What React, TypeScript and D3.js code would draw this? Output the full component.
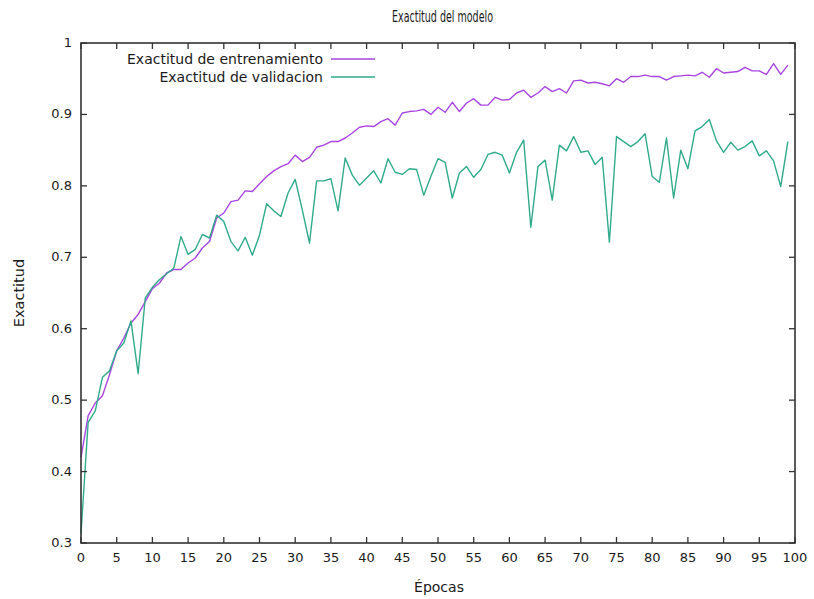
import React, { useEffect, useRef } from 'react';
import * as d3 from 'd3';

// exactitud por epoca
const entrenamiento = [
  0.42, 0.478, 0.496, 0.506, 0.536, 0.569, 0.587, 0.608, 0.62, 0.638,
  0.656, 0.664, 0.678, 0.683, 0.683, 0.692, 0.699, 0.713, 0.722, 0.755,
  0.762, 0.778, 0.78, 0.793, 0.792, 0.803, 0.813, 0.821, 0.827, 0.831,
  0.843, 0.834, 0.84, 0.854, 0.857, 0.862, 0.862, 0.867, 0.874, 0.882,
  0.884, 0.883, 0.89, 0.894, 0.885, 0.902, 0.904, 0.905, 0.907, 0.9,
  0.91, 0.903, 0.917, 0.904, 0.916, 0.922, 0.913, 0.913, 0.924, 0.92,
  0.921, 0.93, 0.934, 0.924, 0.93, 0.939, 0.932, 0.936, 0.93, 0.947,
  0.948, 0.944, 0.945, 0.943, 0.94, 0.95, 0.945, 0.953, 0.953, 0.955,
  0.953, 0.953, 0.948, 0.953, 0.954, 0.955, 0.954, 0.959, 0.952, 0.964,
  0.958, 0.959, 0.96, 0.966, 0.961, 0.961, 0.956, 0.971, 0.956, 0.969,
];

const validacion = [
  0.313, 0.469, 0.485, 0.532, 0.541, 0.569, 0.58, 0.611, 0.537, 0.643,
  0.658, 0.669, 0.677, 0.685, 0.729, 0.704, 0.711, 0.732, 0.727, 0.759,
  0.75, 0.722, 0.709, 0.728, 0.703, 0.731, 0.775, 0.765, 0.757, 0.79,
  0.809, 0.766, 0.72, 0.807, 0.807, 0.81, 0.765, 0.839, 0.815, 0.801,
  0.811, 0.821, 0.804, 0.838, 0.819, 0.816, 0.824, 0.823, 0.787, 0.813,
  0.838, 0.833, 0.783, 0.818, 0.827, 0.812, 0.823, 0.844, 0.847, 0.843,
  0.818, 0.847, 0.864, 0.742, 0.827, 0.836, 0.78, 0.857, 0.849, 0.869,
  0.847, 0.849, 0.83, 0.84, 0.721, 0.869, 0.862, 0.855, 0.862, 0.873,
  0.813, 0.805, 0.867, 0.783, 0.85, 0.824, 0.877, 0.883, 0.893, 0.863,
  0.847, 0.861, 0.85, 0.855, 0.863, 0.842, 0.849, 0.835, 0.799, 0.862,
];

const series = [
  { nombre: 'Exactitud de entrenamiento', valores: entrenamiento, color: '#a845e2' },
  { nombre: 'Exactitud de validacion', valores: validacion, color: '#2fab8a' },
];

const xTicks = d3.range(0, 101, 5);
const yTicks = [0.3, 0.4, 0.5, 0.6, 0.7, 0.8, 0.9, 1];

function App() {
  const ref = useRef<SVGSVGElement>(null);

  useEffect(() => {
    const svg = d3.select(ref.current);
    svg.selectAll('*').remove();

    const width = 814;
    const height = 599;
    const margin = { top: 43, left: 81, bottom: 56, right: 19 };
    const iwidth = width - margin.left - margin.right;
    const iheight = height - margin.top - margin.bottom;
    const font = 'Tahoma, "DejaVu Sans", sans-serif';

    const x = d3.scaleLinear().domain([0, 100]).range([0, iwidth]);
    const y = d3.scaleLinear().domain([0.3, 1]).range([iheight, 0]);

    const g = svg.append('g').attr('transform', `translate(${margin.left},${margin.top})`);

    // lineas
    const linea = d3.line<number>()
      .x((d, i) => x(i))
      .y(d => y(d));

    series.forEach(s => {
      g.append('path')
        .datum(s.valores)
        .attr('fill', 'none')
        .attr('stroke', s.color)
        .attr('stroke-width', 1.4)
        .attr('stroke-linejoin', 'round')
        .attr('d', linea);
    });

    // ejes estilo gnuplot: ticks hacia adentro en los cuatro lados
    const tick = 6;
    const ejes = g.append('g').attr('stroke', '#333').attr('stroke-width', 1.3);
    xTicks.forEach(t => {
      ejes.append('line').attr('x1', x(t)).attr('x2', x(t)).attr('y1', iheight).attr('y2', iheight - tick);
      ejes.append('line').attr('x1', x(t)).attr('x2', x(t)).attr('y1', 0).attr('y2', tick);
    });
    yTicks.forEach(t => {
      ejes.append('line').attr('x1', 0).attr('x2', tick).attr('y1', y(t)).attr('y2', y(t));
      ejes.append('line').attr('x1', iwidth).attr('x2', iwidth - tick).attr('y1', y(t)).attr('y2', y(t));
    });
    g.append('rect')
      .attr('width', iwidth)
      .attr('height', iheight)
      .attr('fill', 'none')
      .attr('stroke', '#333')
      .attr('stroke-width', 1.6);

    const texto = svg.append('g')
      .attr('font-family', font)
      .attr('font-size', 13)
      .attr('fill', '#1a1a1a');

    xTicks.forEach(t => {
      texto.append('text')
        .attr('x', margin.left + x(t))
        .attr('y', margin.top + iheight + 19)
        .attr('text-anchor', 'middle')
        .text(t);
    });
    yTicks.forEach(t => {
      texto.append('text')
        .attr('x', margin.left - 9)
        .attr('y', margin.top + y(t) + 4)
        .attr('text-anchor', 'end')
        .text(t === 1 ? '1' : t.toFixed(1));
    });

    // titulo con letra angosta
    texto.append('text')
      .attr('x', 392)
      .attr('y', 22)
      .attr('font-size', 15.5)
      .attr('textLength', 101)
      .attr('lengthAdjust', 'spacingAndGlyphs')
      .text('Exactitud del modelo');

    texto.append('text')
      .attr('x', 439)
      .attr('y', 592)
      .attr('text-anchor', 'middle')
      .attr('font-size', 14)
      .text('Épocas');

    texto.append('text')
      .attr('transform', 'translate(24,293) rotate(-90)')
      .attr('text-anchor', 'middle')
      .attr('font-size', 14.5)
      .text('Exactitud');

    // leyenda
    series.forEach((s, i) => {
      const ly = 59 + i * 18;
      texto.append('text')
        .attr('x', 323)
        .attr('y', ly + 5)
        .attr('text-anchor', 'end')
        .attr('font-size', 14)
        .text(s.nombre);
      svg.append('line')
        .attr('x1', 331)
        .attr('x2', 375)
        .attr('y1', ly)
        .attr('y2', ly)
        .attr('stroke', s.color)
        .attr('stroke-width', 1.6);
    });
  }, []);

  return (
    <svg ref={ref} width={814} height={599} style={{ position: 'absolute', left: 0, top: 0, background: '#fff' }}></svg>
  );
}

export default App;
